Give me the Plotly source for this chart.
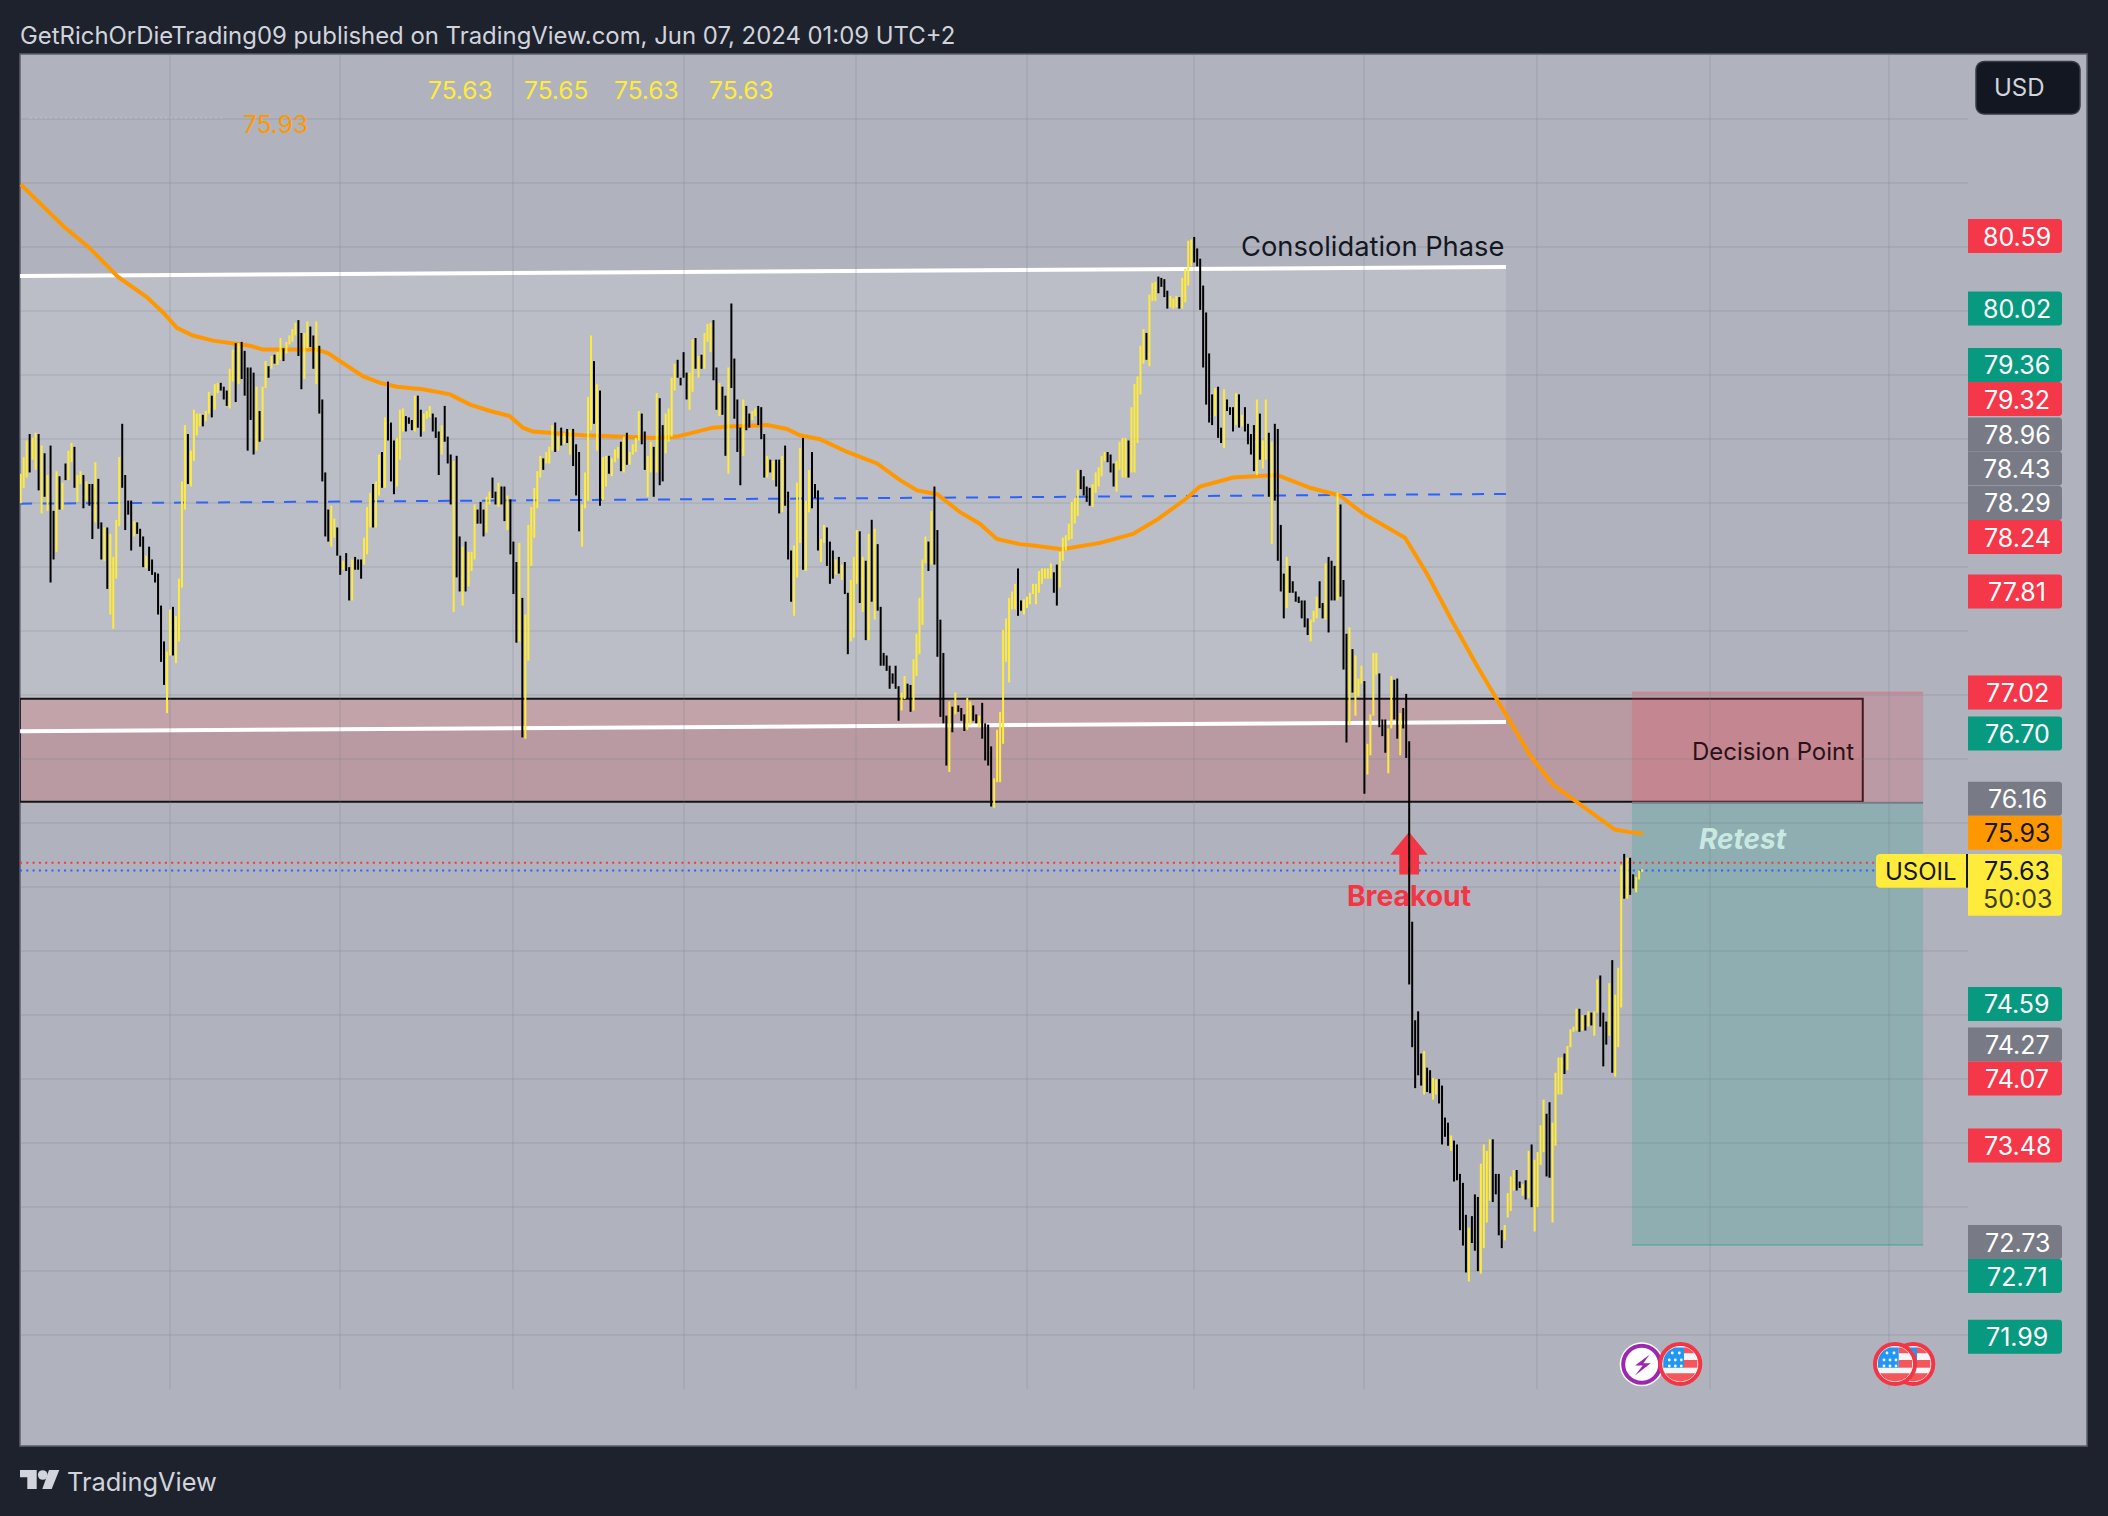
import math
import plotly.graph_objects as go

W, H = 2108, 1516
PLOT_L, PLOT_R, PLOT_T, PLOT_B = 20, 1968, 54, 1389
BAR_STEP = 2.986
FIRST_BAR_PX = 20.7

bar_high = [
78.73,78.86,78.99,79.04,79.01,79.05,79.04,78.95,78.89,78.72,
78.95,78.44,78.75,78.71,78.66,78.81,78.91,78.97,78.94,78.72,
78.75,78.72,78.67,78.65,78.65,78.82,78.69,78.35,78.31,78.31,
78.26,78.08,78.37,78.86,79.12,78.72,78.52,78.52,78.36,78.35,
78.30,78.24,78.09,78.16,78.06,77.96,77.95,77.70,77.42,77.34,
77.67,77.69,77.62,77.91,78.67,79.11,79.04,78.91,79.23,79.20,
79.20,79.19,79.22,79.37,79.34,79.43,79.44,79.44,79.41,79.38,
79.55,79.70,79.75,79.75,79.76,79.69,79.56,79.56,79.52,79.41,
79.22,79.41,79.61,79.57,79.65,79.66,79.68,79.79,79.71,79.76,
79.81,79.86,79.91,79.93,79.83,79.83,79.92,79.88,79.81,79.92,
79.73,79.31,78.74,78.45,78.48,78.38,78.31,78.09,78.05,78.11,
78.00,78.06,78.08,78.06,78.06,78.23,78.47,78.58,78.65,78.67,
78.88,78.90,79.17,79.45,79.13,78.99,79.01,79.23,79.24,79.18,
79.17,79.15,79.34,79.34,79.23,79.20,79.22,79.26,79.20,79.17,
79.06,79.11,79.26,79.02,78.88,78.83,78.87,78.24,78.16,78.20,
78.12,78.12,78.49,78.45,78.51,78.45,78.55,78.59,78.70,78.59,
78.66,78.63,78.63,78.56,78.53,78.20,78.04,78.19,
77.76,77.63,78.33,78.47,78.62,78.75,78.87,78.85,78.90,78.94,
79.11,79.13,79.02,79.09,79.05,79.08,79.07,79.08,78.96,78.90,
78.49,78.74,79.33,79.81,79.61,79.43,79.38,78.86,78.87,78.87,
78.85,78.92,78.94,78.98,79.02,79.05,78.90,78.96,79.01,79.22,
79.20,79.06,78.87,78.98,78.94,79.36,79.32,79.11,79.20,79.24,
79.48,79.59,79.62,79.48,79.68,79.52,79.52,79.78,79.79,79.65,
79.66,79.83,79.90,79.91,79.93,79.56,79.44,79.41,79.34,79.56,
80.06,79.63,79.31,79.09,79.31,79.26,79.20,79.22,79.24,79.26,
79.25,79.04,78.87,78.84,78.83,78.84,78.84,78.87,78.95,78.59,
78.13,78.17,78.66,78.93,79.01,78.52,78.76,78.90,78.65,78.60,
78.22,78.33,78.31,78.20,78.13,78.06,78.08,78.02,78.04,77.80,
77.90,78.08,78.29,78.28,78.08,78.05,78.26,78.37,78.30,78.18,
77.69,77.33,77.31,77.23,77.17,77.23,77.07,77.02,77.15,77.09,
77.08,77.28,77.48,77.76,78.06,78.24,78.20,78.44,78.63,78.29,
77.59,77.33,76.84,76.95,76.91,77.02,76.92,76.90,76.85,76.98,
76.95,76.92,76.85,76.84,76.94,76.78,76.77,76.60,76.35,76.73,
76.87,77.51,77.60,77.76,77.81,77.87,
77.99,77.74,77.75,77.77,77.80,77.87,77.87,77.97,77.99,77.99,
77.99,78.03,77.96,78.02,78.12,78.23,78.25,78.34,78.51,78.54,
78.76,78.76,78.71,78.63,78.62,78.65,78.74,78.78,78.87,78.90,
78.90,78.88,78.81,78.83,78.98,79.01,79.01,78.99,79.25,79.43,
79.49,79.73,79.86,79.83,80.13,80.22,80.23,80.27,80.26,80.25,
80.16,80.12,80.10,80.12,80.11,80.26,80.33,80.55,80.56,80.58,
80.49,80.41,80.20,79.99,79.67,79.35,79.40,79.41,79.09,79.39,
79.31,79.25,79.25,79.36,79.35,79.19,79.25,79.12,79.04,79.11,
79.31,79.20,78.99,79.31,79.05,78.98,79.12,79.08,78.33,77.95,
78.08,78.01,77.89,77.81,77.77,77.74,77.74,77.60,77.59,77.66,
77.77,77.89,77.72,78.03,78.08,78.05,78.01,78.58,78.49,77.90,
77.48,77.53,77.36,77.31,77.13,77.23,77.11,76.62,76.85,77.33,
77.33,77.17,76.81,76.81,76.74,77.15,77.12,77.13,76.86,76.90,
77.01,76.64,
75.23,74.46,74.53,74.20,74.22,74.09,74.07,74.01,74.00,74.00,
73.95,73.70,73.66,73.56,73.52,73.49,73.26,73.19,72.94,72.84,
72.93,73.10,73.08,73.34,73.49,73.44,73.53,73.53,73.26,73.26,
72.82,72.86,73.11,73.24,73.29,73.29,73.20,73.18,73.21,73.44,
73.49,73.37,73.43,73.64,73.84,73.73,73.82,73.66,74.05,74.17,
74.17,74.20,74.26,74.39,74.41,74.55,74.55,74.50,74.50,74.53,
74.52,74.53,74.78,74.81,74.52,74.45,74.75,74.93,74.66,74.87,
75.67,75.76,75.73,75.73,75.60,75.58,75.63,75.64,
]

bar_low = [
78.50,78.62,78.70,78.74,78.84,78.76,78.60,78.42,78.55,78.44,
77.88,78.06,78.12,78.45,78.45,78.68,78.68,78.82,78.62,78.51,
78.65,78.46,78.52,78.48,78.22,78.35,78.30,78.06,78.05,77.83,
77.63,77.52,77.91,78.32,78.62,78.29,78.41,78.13,78.24,78.26,
78.16,78.00,77.99,77.97,77.94,77.88,77.63,77.26,77.08,76.86,
77.31,77.31,77.25,77.42,77.84,78.45,78.65,78.63,78.83,79.03,
79.10,79.10,79.14,79.20,79.17,79.23,79.36,79.38,79.31,79.26,
79.24,79.45,79.29,79.43,79.47,79.34,78.91,79.15,78.88,78.91,
78.98,78.99,79.40,79.48,79.55,79.59,79.58,79.62,79.61,79.67,
79.74,79.76,79.81,79.65,79.39,79.47,79.71,79.72,79.55,79.43,
79.20,78.67,78.24,78.20,78.16,78.23,78.09,77.94,77.98,77.97,
77.74,77.74,77.98,77.98,77.91,78.02,78.10,78.31,78.31,78.31,
78.56,78.62,78.62,78.99,78.67,78.57,78.63,78.84,79.06,79.06,
79.12,79.07,79.06,79.09,79.02,79.06,79.16,79.17,79.06,79.01,
78.72,78.88,78.98,78.81,78.49,77.65,77.92,77.81,77.70,77.81,
77.85,77.97,78.06,78.34,78.34,78.24,78.27,78.49,78.54,78.49,
78.47,78.49,78.36,78.29,78.10,77.79,77.41,77.42,
76.67,76.66,77.27,78.01,78.23,78.46,78.70,78.76,78.81,78.81,
78.91,78.90,78.91,78.95,78.96,78.97,78.88,78.79,78.56,78.28,
78.16,78.46,78.52,79.07,79.12,78.91,78.48,78.52,78.63,78.73,
78.71,78.82,78.85,78.75,78.74,78.80,78.80,78.88,78.90,78.99,
78.96,78.76,78.55,78.74,78.55,78.74,78.64,78.67,78.89,78.98,
79.02,79.38,79.48,79.42,79.48,79.31,79.23,79.37,79.55,79.48,
79.55,79.55,79.76,79.68,79.46,79.23,79.18,79.19,78.87,78.73,
79.40,79.16,78.90,78.64,78.87,79.07,79.09,79.15,79.18,79.11,
79.00,78.70,78.70,78.74,78.68,78.63,78.42,78.43,78.48,78.06,
77.73,77.62,77.92,78.19,77.98,77.97,78.43,78.46,78.54,78.13,
78.04,78.19,78.01,77.87,77.91,77.94,77.95,77.90,77.79,77.32,
77.42,77.45,77.87,77.72,77.65,77.43,77.43,77.73,77.59,77.66,
77.23,77.23,77.19,77.05,77.09,77.05,76.80,76.88,76.97,76.97,
76.87,76.88,77.15,77.32,77.55,78.03,77.97,78.02,78.02,77.30,
76.83,76.78,76.45,76.40,76.71,76.85,76.87,76.80,76.72,76.73,
76.77,76.80,76.78,76.75,76.66,76.49,76.45,76.13,76.12,76.32,
76.32,76.62,77.26,77.10,77.67,77.67,
77.62,77.66,77.63,77.68,77.71,77.79,77.71,77.80,77.87,77.91,
77.91,77.91,77.80,77.70,77.84,78.05,78.13,78.21,78.22,78.34,
78.40,78.61,78.56,78.51,78.48,78.47,78.58,78.63,78.71,78.83,
78.82,78.74,78.63,78.59,78.76,78.70,78.70,78.70,78.74,78.74,
78.97,79.35,79.59,79.62,79.57,80.08,80.08,80.14,80.19,80.11,
80.02,80.03,80.02,80.03,80.02,80.02,80.07,80.20,80.35,80.38,
80.35,80.01,79.56,79.27,79.13,79.11,79.18,79.01,78.97,78.93,
79.22,79.19,79.06,79.11,79.09,79.10,79.06,78.96,78.88,78.75,
78.72,78.84,78.77,78.84,78.55,78.18,78.52,78.05,77.81,77.60,
77.68,77.80,77.80,77.73,77.72,77.60,77.53,77.47,77.42,77.57,
77.60,77.68,77.60,77.59,77.49,77.74,77.74,77.74,77.77,77.20,
76.63,76.77,77.02,76.84,76.99,77.09,76.23,76.38,76.53,76.84,
77.16,76.75,76.68,76.55,76.39,76.74,76.81,76.66,76.53,76.74,
76.51,74.74,
74.25,73.93,74.03,73.95,73.88,73.90,73.89,73.84,73.88,73.81,
73.49,73.55,73.48,73.44,73.20,73.21,72.82,72.70,72.49,72.42,
72.72,72.66,72.50,72.48,72.68,72.88,73.05,73.04,73.10,72.78,
72.68,72.74,72.92,72.97,73.13,73.13,73.15,73.09,73.06,73.07,
73.00,72.81,73.00,73.33,73.43,73.24,73.23,72.88,73.48,73.88,
73.88,74.04,74.07,74.25,74.37,74.38,74.37,74.38,74.38,74.41,
74.42,74.34,74.52,74.41,74.10,74.27,74.34,74.05,74.02,74.25,
74.56,75.41,75.41,75.44,75.49,75.46,75.56,75.62,
]

# Y = rising bar (yellow), K = falling bar (black)
bar_dir = "".join([
"YYYKYYKYKY","KKYKYKYYKY","YKYKKYKKYK","YYYYKKKKYK","KKYKKKKKKY",
"YKYYYYKYYY","YKYYKYYKKK","YYKYKKKKKY","KYYKYKYYKY","YYYKKYYKKY",
"KKKKYYKKYK","KYKKKYYYKY","YKYKKKYYYK","KKYKKYYYKK","KYKKKYKKYK",
"YYYKKKYYKK","YKKYKKKY",
"KYYYYYYKYY","YKYKYKYKKK","YYYYKYKYYK","YYYKYKYYYY","KKYYKYKKYY",
"YYKKKKYYKY","KYYYKKYKKY","KKKKYKKYYK","KKYKYKKYKK","KYYYKYYKKK",
"YYKKKYKYKK","YYYKYKYKYK","KKKKKKKYYK","KYYYYYKYKK","KKKYKYKKKY",
"YKKYKKKKYY","YYYYYYKKYY","YYYYYYYYKK","YYYYYYYKKK","KYYYYYKKKY",
"YYYKYYYYYK","YYYKKKKYYY","KYYYYKKKKK","KKYKKYKKKY","KYKKKKYKYY",
"KYKKKKYKKK","KKKKYYYKKY","KKKYKKKYKY","YYKYYYYKKK","YYKKYKKKKK",
"KKYKKYYKKK","KYKKKKKYKK","KYYYYKKKKY","YYYKKYKYKY","YYYKKYYYYK",
"YYYYKYKYKY","YKKKYKYYYK","YKKYYY",
])

ma_bar = [0,14.5,22.8,32.5,42.2,47.7,52.3,57.7,64.4,71.1,76.8,81.1,87.8,99.2,103,109.2,114.7,120.4,126,134.7,
          143.8,150.5,157.2,163.8,168.2,171.5,177.2,188.3,199.7,213.1,219.8,227.5,231.8,238.5,250,256.6,261,267.7,
          276.8,286.8,294.5,300.2,306.9,314.6,321.2,326.9,334.6,339,348.8,361.5,372.5,380.5,390.6,394.9,406,420.8,
          431.8,441.8,449.5,463.6,470.9,479.6,487.7,497.1,505.5,513.2,522.2,528.9,533.9,538.9,543.3]
ma_price = [80.99,80.66,80.50,80.27,80.11,79.99,79.87,79.81,79.77,79.75,79.73,79.70,79.70,79.70,79.67,79.57,79.49,79.44,79.41,79.39,
            79.35,79.27,79.22,79.18,79.09,79.06,79.05,79.03,79.02,79.01,79.02,79.06,79.09,79.10,79.11,79.08,79.03,79.00,
            78.90,78.81,78.68,78.60,78.57,78.43,78.34,78.22,78.18,78.17,78.14,78.19,78.26,78.37,78.54,78.63,78.70,78.72,
            78.62,78.56,78.42,78.23,77.95,77.57,77.23,76.86,76.53,76.30,76.15,76.04,75.95,75.93,75.92]

grid_bars = [49.9,106.9,165,222,279.9,336.9,392.9,449.9,507.8,565.7,625.6]
grid_prices = [72,72.5,73,73.5,74,74.5,75,75.5,76,76.5,77,77.5,78,78.5,79,79.5,80,80.5,81,81.5]

channel_bars = [-0.2, 497.4]
channel_top = [80.275, 80.345]
channel_bottom = [76.718, 76.79]
channel_mid = [78.496, 78.572]

zone_price = [76.168, 76.972]
zone_bars = [-0.3, 616.9]
pos_bars = [539.6, 637.1]
pos_stop = 77.02
pos_entry = 76.16
pos_target = 72.705
last_price = 75.63
prev_price = 75.69

label_values = ["80.59","80.02","79.36","79.32","78.96","78.43","78.29","78.24","77.81","77.02",
                "76.70","76.16","75.93","74.59","74.27","74.07","73.48","72.73","72.71","71.99"]
label_kinds = ["r","g","g","r","k","k","k","r","r","r","g","k","o","g","k","r","r","k","g","g"]
label_y = [236,308.6,365,399,434.6,468.6,503,537,591.6,692.6,733.5,798.7,832.7,1004,1044.6,1078.6,1145.6,1242,1276,1336.7]
label_fill = {"r":"#f43749","g":"#089981","k":"#787b86","o":"#ff9800"}

RED = "#f23645"
TEAL = "#089981"
YELLOW = "#ffeb3b"
ORANGE = "#ff9800"
BG = "#1e222d"
TXT = "#d1d4dc"
FONT = "Inter"


def px_x(px):
    return (px - FIRST_BAR_PX) / BAR_STEP


def px_y(py):
    return 82.431 - py / 128


def pap_x(px):
    return (px - PLOT_L) / (PLOT_R - PLOT_L)


def pap_y(py):
    return (PLOT_B - py) / (PLOT_B - PLOT_T)


def path_px(points, close=True):
    s = "M " + " L ".join(f"{pap_x(x):.5f},{pap_y(y):.5f}" for x, y in points)
    return s + (" Z" if close else "")


def box(points, fill, line=None, lw=0, layer="above"):
    d = dict(type="path", xref="paper", yref="paper", path=path_px(points), fillcolor=fill,
             layer=layer, line=dict(width=lw, color=line or fill))
    shapes.append(d)


def round_rect(x0, y0, x1, y1, r_left=0, r_right=0):
    pts = []
    def arc(cx, cy, r, a0, a1):
        if r == 0:
            pts.append((cx, cy))
            return
        for k in range(5):
            a = math.radians(a0 + (a1 - a0) * k / 4)
            pts.append((cx + r * math.cos(a), cy + r * math.sin(a)))
    arc(x0 + r_left, y0 + r_left, r_left, 180, 270)
    arc(x1 - r_right, y0 + r_right, r_right, 270, 360)
    arc(x1 - r_right, y1 - r_right, r_right, 0, 90)
    arc(x0 + r_left, y1 - r_left, r_left, 90, 180)
    return pts


def circle(cx, cy, r, fill, line=None, lw=0):
    shapes.append(dict(type="circle", xref="paper", yref="paper",
                       x0=pap_x(cx - r), x1=pap_x(cx + r), y0=pap_y(cy + r), y1=pap_y(cy - r),
                       fillcolor=fill, line=dict(width=lw, color=line or fill), layer="above"))


def clipped(cx, cy, r, x0, x1, y0, y1):
    pts = []
    n = 6
    rows = [y0 + (y1 - y0) * k / n for k in range(n + 1)]
    for y in rows:
        half = math.sqrt(max(r * r - y * y, 0))
        pts.append((cx + max(x0, -half), cy + y))
    for y in reversed(rows):
        half = math.sqrt(max(r * r - y * y, 0))
        pts.append((cx + max(min(x1, half), max(x0, -half)), cy + y))
    return pts


def flag(cx, cy):
    r = 20
    circle(cx, cy, r, "#f4f5f7", RED, 4)
    ri = 17.5
    box(clipped(cx, cy, ri, 3.7, 17, -4, 3.7), "#f4565a")
    box(clipped(cx, cy, ri, 3.7, 17, -16.5, -10.7), "#f4565a")
    box(clipped(cx, cy, ri, -17, 17, 9.3, 17.5), "#f4565a")
    box(clipped(cx, cy, ri, -17, 3.7, -16.5, 3.7), "#2196f3")
    for ix, iy in [(-8, -11), (-1, -11), (-11, -4), (-5, -4), (1, -4), (-11, 2), (-5, 2), (1, 2)]:
        circle(cx + ix, cy + iy, 1.4, "#ffffff")


assert len(bar_high) == len(bar_low) == len(bar_dir), (len(bar_high), len(bar_low), len(bar_dir))

shapes = []
annotations = []


def text(s, x, y, size=24, color=TXT, anchor="center", bold=False, italic=False, family=FONT):
    if bold:
        s = f"<b>{s}</b>"
    if italic:
        s = f"<i>{s}</i>"
    annotations.append(dict(text=s, x=pap_x(x), y=pap_y(y), xref="paper", yref="paper", showarrow=False,
                            xanchor=anchor, yanchor="middle", align="left", borderpad=0, borderwidth=0,
                            font=dict(family=family, size=size, color=color)))


# chart panel (goes under the grid)
shapes.append(dict(type="rect", xref="paper", yref="paper", x0=pap_x(20), x1=pap_x(2087), y0=pap_y(1446), y1=pap_y(54),
                   fillcolor="#b0b3bd", line=dict(color="#5d606b", width=1.5), layer="below"))

# consolidation channel
shapes.append(dict(type="path", xref="x", yref="y", layer="below", fillcolor="rgba(255,255,255,0.15)", line=dict(width=0),
                   path=f"M {channel_bars[0]},{channel_top[0]} L {channel_bars[1]},{channel_top[1]} "
                        f"L {channel_bars[1]},{channel_bottom[1]} L {channel_bars[0]},{channel_bottom[0]} Z"))
# decision zone
shapes.append(dict(type="rect", xref="x", yref="y", layer="below", x0=zone_bars[0], x1=zone_bars[1], y0=zone_price[0], y1=zone_price[1],
                   fillcolor="rgba(226,56,62,0.2)", line=dict(color="#141414", width=2)))
# position tool
shapes.append(dict(type="rect", xref="x", yref="y", layer="below", x0=pos_bars[0], x1=pos_bars[1], y0=pos_entry, y1=pos_stop,
                   fillcolor="rgba(242,54,69,0.2)", line=dict(width=0)))
shapes.append(dict(type="rect", xref="x", yref="y", layer="below", x0=pos_bars[0], x1=pos_bars[1], y0=pos_target, y1=pos_entry,
                   fillcolor="rgba(8,153,129,0.2)", line=dict(width=0)))
for price, col in [(pos_stop, "rgba(242,54,69,0.25)"), (pos_target, "rgba(8,153,129,0.3)"), (pos_entry, "#787b86")]:
    shapes.append(dict(type="line", xref="x", yref="y", layer="below", x0=pos_bars[0], x1=pos_bars[1], y0=price, y1=price,
                       line=dict(color=col, width=2)))
# channel lines
for series, col, width, dash in [(channel_top, "#ffffff", 4, "solid"), (channel_bottom, "#ffffff", 4, "solid"),
                                 (channel_mid, "#2962ff", 2, "12px,10px")]:
    shapes.append(dict(type="line", xref="x", yref="y", layer="below", x0=channel_bars[0], x1=channel_bars[1],
                       y0=series[0], y1=series[1], line=dict(color=col, width=width, dash=dash)))
# price lines
for price, col in [(prev_price, RED), (last_price, "#2962ff")]:
    shapes.append(dict(type="line", xref="x", yref="y", layer="below", x0=px_x(20), x1=px_x(1876), y0=price, y1=price,
                       line=dict(color=col, width=2, dash="2px,4.3px")))
# breakout arrow
arrow = [(1409, 832), (1427.7, 854.8), (1419, 854.8), (1419, 874.5), (1399.3, 874.5), (1399.3, 854.8), (1390.3, 854.8)]
shapes.append(dict(type="path", xref="x", yref="y", layer="below", fillcolor=RED, line=dict(width=0),
                   path="M " + " L ".join(f"{px_x(a):.3f},{px_y(b):.4f}" for a, b in arrow) + " Z"))
# faint dotted remnant near top left
shapes.append(dict(type="line", xref="paper", yref="paper", layer="above", x0=pap_x(30), x1=pap_x(225), y0=pap_y(118), y1=pap_y(118),
                   line=dict(color="rgba(255,255,255,0.16)", width=1.5, dash="2px,3px")))

# price labels
for value, kind, y in zip(label_values, label_kinds, label_y):
    box(round_rect(1968, y - 17, 2062, y + 17, 0, 3), label_fill[kind])
    text(value, 2017, y + 0.5, 25, "#131722" if kind == "o" else "#ffffff")

# last price label
box(round_rect(1968, 854, 2062, 915.7, 0, 3), YELLOW)
box(round_rect(1876, 854, 1968, 887.7, 4, 0), YELLOW)
box([(1966, 854), (1968, 854), (1968, 887.7), (1966, 887.7)], "#131722")
text("USOIL", 1920.7, 871, 24, "#131722")
text("75.63", 2017, 871, 25, "#131722")
text("50:03", 2017, 898.5, 25, "#3e3c14")

# USD button
box(round_rect(1976, 61.5, 2080, 114, 8, 8), "#131722", "#363a45", 1.5)
text("USD", 2019, 87.5, 24, TXT)

# flags
circle(1641.7, 1364.3, 22, "#ffffff")
circle(1641.7, 1364.3, 18.5, "#ffffff", "#9c27b0", 4)
cx, cy = 1641.7, 1364.3
box([(cx + 7.7, cy - 9.5), (cx - 6.7, cy + 1.3), (cx + 1, cy + 1.3), (cx - 6.7, cy + 11.3), (cx + 9, cy - 1), (cx + 1.7, cy - 1)], "#9c27b0")
flag(1680.3, 1364)
flag(1913.3, 1364)
flag(1895, 1364)

# TradingView logo
box([(20, 1470), (36.7, 1470), (36.7, 1489), (27.3, 1489), (27.3, 1477.3), (20, 1477.3)], TXT)
circle(42.7, 1475, 4.8, TXT)
box([(59.3, 1470), (49, 1470), (42.3, 1489), (51.7, 1489)], TXT)
text("TradingView", 66.5, 1481, 25.4, TXT, anchor="left")

# header and legend values
text("GetRichOrDieTrading09 published on TradingView.com, Jun 07, 2024 01:09 UTC+2", 20.4, 35.5, 23.9, TXT, anchor="left")
for s, x in zip(["75.63", "75.65", "75.63", "75.63"], [460.5, 555.5, 646.7, 741]):
    text(s, x, 89.5, 24.5, YELLOW)
text("75.93", 275, 123.5, 24.5, ORANGE)

# drawing captions
text("Consolidation Phase", 1372, 246, 27.3, "#131722")
text("Decision Point", 1773, 751.5, 24, "#2a1216")
text("Retest", 1742.7, 838.5, 28, "#c9e8e1", bold=True, italic=True)


def segments(kind):
    xs, ys = [], []
    for i, (hi, lo, d) in enumerate(zip(bar_high, bar_low, bar_dir)):
        if d == kind:
            xs += [i, i, None]
            ys += [hi, lo, None]
    return xs, ys


fig = go.Figure()
fig.add_trace(go.Scatter(x=[px_x(1409)], y=[px_y(898.5)], mode="text", text=["<b>Breakout</b>"], textposition="middle center",
                         textfont=dict(family=FONT, size=28.3, color=RED), hoverinfo="skip", showlegend=False))
fig.add_trace(go.Scatter(x=ma_bar, y=ma_price, mode="lines", line=dict(color=ORANGE, width=4), hoverinfo="skip", showlegend=False))
for kind, col in [("Y", YELLOW), ("K", "#000000")]:
    xs, ys = segments(kind)
    fig.add_trace(go.Scatter(x=xs, y=ys, mode="lines", line=dict(color=col, width=2), connectgaps=False,
                             hoverinfo="skip", showlegend=False))

fig.update_layout(
    width=W, height=H, autosize=False,
    paper_bgcolor=BG, plot_bgcolor="rgba(0,0,0,0)",
    margin=dict(l=PLOT_L, r=W - PLOT_R, t=PLOT_T, b=H - PLOT_B, pad=0),
    xaxis=dict(range=[px_x(PLOT_L), px_x(PLOT_R)], tickmode="array", tickvals=grid_bars, showticklabels=False, ticks="",
               showgrid=True, gridcolor="rgba(120,123,134,0.16)", gridwidth=1.5, zeroline=False, showline=False, fixedrange=True),
    yaxis=dict(range=[px_y(PLOT_B), px_y(PLOT_T)], tickmode="array", tickvals=grid_prices, showticklabels=False, ticks="",
               showgrid=True, gridcolor="rgba(120,123,134,0.17)", gridwidth=2, zeroline=False, showline=False, fixedrange=True),
    shapes=shapes, annotations=annotations, showlegend=False, hovermode=False,
)
fig.write_html("out.html", config=dict(displayModeBar=False, responsive=False),
               post_script="document.body.style.margin='0';document.body.style.overflow='hidden';")
